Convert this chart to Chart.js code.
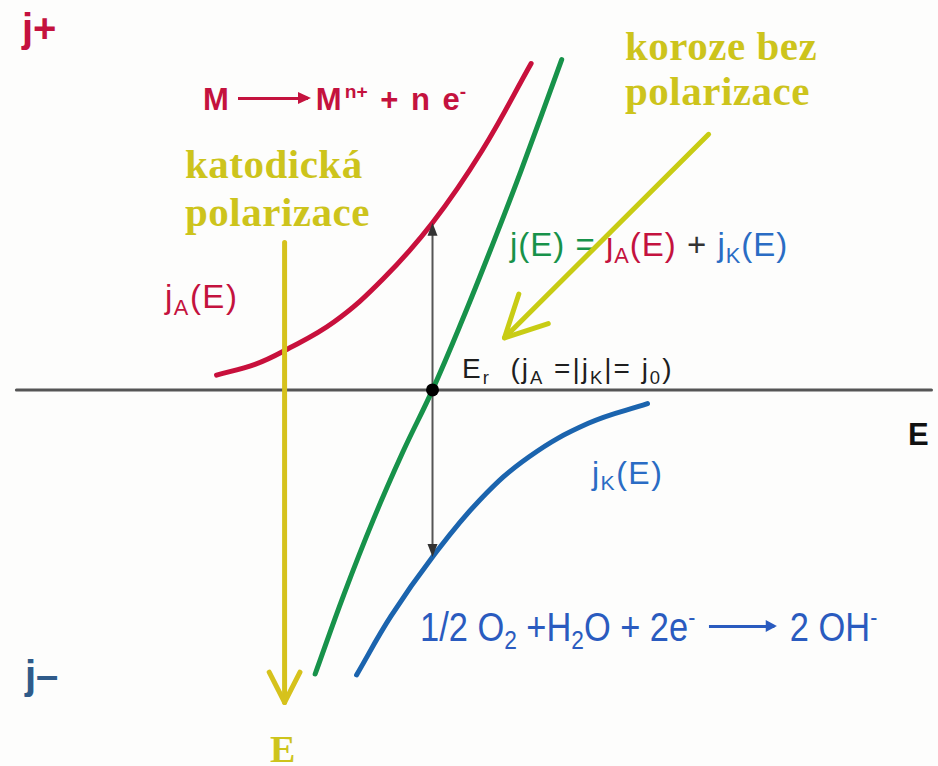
<!DOCTYPE html>
<html lang="cs">
<head>
<meta charset="utf-8">
<title>Korozní potenciál</title>
<script src="https://cdn.jsdelivr.net/npm/chart.js@4.4.1/dist/chart.umd.min.js"></script>
<style>
  html, body { margin: 0; padding: 0; background: #fdfdfc; }
  #wrap { position: relative; width: 938px; height: 766px; overflow: hidden; }
  #plot { position: absolute; left: 0; top: 0; z-index: 2; pointer-events: none; }
  .lbl { position: absolute; z-index: 1; white-space: nowrap; line-height: 1; font-family: "Liberation Sans", Arial, sans-serif; }
  .serif { font-family: "Liberation Serif", "Times New Roman", serif; font-weight: bold; color: #cdc41c; }
  sup { font-size: 0.62em; vertical-align: 0.65em; line-height: 0; }
  sub { font-size: 0.66em; vertical-align: -0.3em; line-height: 0; }
  .arrow { display: inline-block; position: relative; height: 3px; background: currentColor; vertical-align: 0.33em; }
  .arrow::after { content: ""; position: absolute; right: -3px; top: -5px; border-left: 13px solid currentColor; border-top: 6.5px solid transparent; border-bottom: 6.5px solid transparent; }
  .red { color: #c4123e; }
  .green { color: #17924a; }
  .blue { color: #2a6cc4; }
</style>
</head>
<body>
<div id="wrap">
  <canvas id="plot" width="938" height="766"></canvas>

  <div class="lbl red" style="left:22px; top:8px; font-size:40px; font-weight:bold;">j+</div>
  <div class="lbl red" style="left:203px; top:84px; font-size:31px; font-weight:bold; word-spacing:4px;">M<span class="arrow" style="width:70px; margin:0 8px 0 9px;"></span>M<sup style="margin-left:3px;">n+</sup> + n e<sup>-</sup></div>

  <div class="lbl serif" style="left:185px; top:140px; font-size:41px; line-height:48px; letter-spacing:0.5px;">katodická<br>polarizace</div>
  <div class="lbl serif" style="left:625px; top:24px; font-size:41px; line-height:45px; letter-spacing:0.5px;">koroze bez<br>polarizace</div>

  <div class="lbl red" style="left:165px; top:280px; font-size:33px; letter-spacing:1.5px;">j<sub>A</sub>(E)</div>

  <div class="lbl" style="left:510px; top:228px; font-size:33px; letter-spacing:1px;"><span class="green">j(E) =</span> <span class="red">j<sub>A</sub>(E)</span> <span style="color:#333">+</span> <span class="blue">j<sub>K</sub>(E)</span></div>

  <div class="lbl" style="left:462px; top:355px; font-size:28px; letter-spacing:2px; color:#1e1e1e;">E<sub>r</sub>&nbsp; (j<sub>A</sub> =|j<sub>K</sub>|= j<sub>0</sub>)</div>

  <div class="lbl" style="left:908px; top:419px; font-size:31px; font-weight:bold; color:#111;">E</div>

  <div class="lbl blue" style="left:592px; top:457px; font-size:32px; letter-spacing:1.5px;">j<sub>K</sub>(E)</div>

  <div class="lbl" style="left:420px; top:607px; font-size:40px; color:#2a5bbf; transform:scaleX(0.86); transform-origin:0 0;">1/2 O<sub>2</sub> +H<sub>2</sub>O + 2e<sup>-</sup><span class="arrow" style="width:76px; margin:0 18px 0 16px;"></span>2 OH<sup>-</sup></div>

  <div class="lbl" style="left:25px; top:655px; font-size:40px; font-weight:bold; color:#2f5b8a;">j–</div>

  <div class="lbl serif" style="left:270px; top:730px; font-size:38px;">E</div>
</div>

<script>
// potential E and current density j, arbitrary units (E = 0 at the corrosion potential)
const anodicE = [-21.9, -18.0, -15.0, -10.0, -5.0, 0, 5.0, 10.0];
const anodicJ = [1.5, 2.6, 4.0, 6.9, 11.3, 17.0, 24.3, 33.2];

const totalE = [-11.9, -9.0, -6.0, -3.0, 0, 3.0, 6.0, 9.0, 13.1];
const totalJ = [-28.9, -20.85, -13.2, -6.3, 0, 7.05, 14.55, 22.35, 33.6];

const cathodicE = [-7.7, -4.2, 0, 4.8, 9.8, 15.8, 21.8];
const cathodicJ = [-29.0, -23.0, -17.0, -11.2, -6.8, -3.4, -1.4];

const axisE = [-42.2, 50.6];
const corrosionE = 0;
const exchangeJ = 17;

// yellow arrows: cathodic polarization and the pointer to E_r
const polarizationE = [-15.0, -15.0];
const polarizationJ = [15.0, -31.8];
const pointerE = [28.0, 7.3];
const pointerJ = [26.0, 5.3];

const E_RANGE = [-43.2, 50.6];
const J_RANGE = [-37.6, 39.0];

function toPoints(xs, ys) {
  return xs.map((x, i) => ({ x, y: ys[i] }));
}

function lineSet(data, color, width, order) {
  return {
    data,
    showLine: true,
    borderColor: color,
    borderWidth: width,
    borderCapStyle: "round",
    pointRadius: 0,
    tension: 0.4,
    fill: false,
    clip: false,
    order
  };
}

function chevron(ctx, x1, y1, x2, y2, len, half, color, width) {
  const a = Math.atan2(y2 - y1, x2 - x1) + Math.PI;
  ctx.save();
  ctx.strokeStyle = color;
  ctx.lineWidth = width;
  ctx.lineCap = "round";
  ctx.lineJoin = "round";
  ctx.beginPath();
  ctx.moveTo(x2 + len * Math.cos(a - half), y2 + len * Math.sin(a - half));
  ctx.lineTo(x2, y2);
  ctx.lineTo(x2 + len * Math.cos(a + half), y2 + len * Math.sin(a + half));
  ctx.stroke();
  ctx.restore();
}

function triangleHead(ctx, x, y, dir, color) {
  ctx.save();
  ctx.fillStyle = color;
  ctx.beginPath();
  ctx.moveTo(x, y);
  ctx.lineTo(x - 5, y - dir * 13);
  ctx.lineTo(x + 5, y - dir * 13);
  ctx.closePath();
  ctx.fill();
  ctx.restore();
}

const arrowHeads = {
  id: "arrowHeads",
  afterDatasetsDraw(chart) {
    const { ctx, scales } = chart;
    const px = (v) => scales.x.getPixelForValue(v);
    const py = (v) => scales.y.getPixelForValue(v);

    // j0 double arrow
    triangleHead(ctx, px(corrosionE), py(exchangeJ), -1, "#333");
    triangleHead(ctx, px(corrosionE), py(-exchangeJ), 1, "#333");

    chevron(ctx, px(polarizationE[0]), py(polarizationJ[0]), px(polarizationE[1]), py(polarizationJ[1]),
      34, 0.47, "#d6c21c", 5);
    chevron(ctx, px(pointerE[0]), py(pointerJ[0]), px(pointerE[1]), py(pointerJ[1]),
      46, 0.47, "#c8cc14", 5);
  }
};

new Chart(document.getElementById("plot"), {
  type: "scatter",
  data: {
    datasets: [
      lineSet(toPoints(polarizationE, polarizationJ), "#d6c21c", 5, 1),
      lineSet(toPoints(pointerE, pointerJ), "#c8cc14", 5, 1),
      {
        data: [{ x: corrosionE, y: 0 }],
        pointRadius: 6.5,
        pointBackgroundColor: "#000",
        pointBorderWidth: 0,
        clip: false,
        order: 2
      },
      lineSet(toPoints(anodicE, anodicJ), "#c8103c", 5, 3),
      lineSet(toPoints(totalE, totalJ), "#17924a", 5, 3),
      lineSet(toPoints(cathodicE, cathodicJ), "#1b64ae", 5, 3),
      lineSet(toPoints([corrosionE, corrosionE], [exchangeJ - 0.6, -exchangeJ + 0.6]), "#555", 2, 4),
      lineSet(toPoints(axisE, [0, 0]), "#555", 3, 5)
    ]
  },
  options: {
    responsive: false,
    animation: false,
    events: [],
    layout: { padding: 0 },
    plugins: {
      legend: { display: false },
      tooltip: { enabled: false }
    },
    scales: {
      x: { type: "linear", min: E_RANGE[0], max: E_RANGE[1], display: false },
      y: { type: "linear", min: J_RANGE[0], max: J_RANGE[1], display: false }
    }
  },
  plugins: [arrowHeads]
});
</script>
</body>
</html>
